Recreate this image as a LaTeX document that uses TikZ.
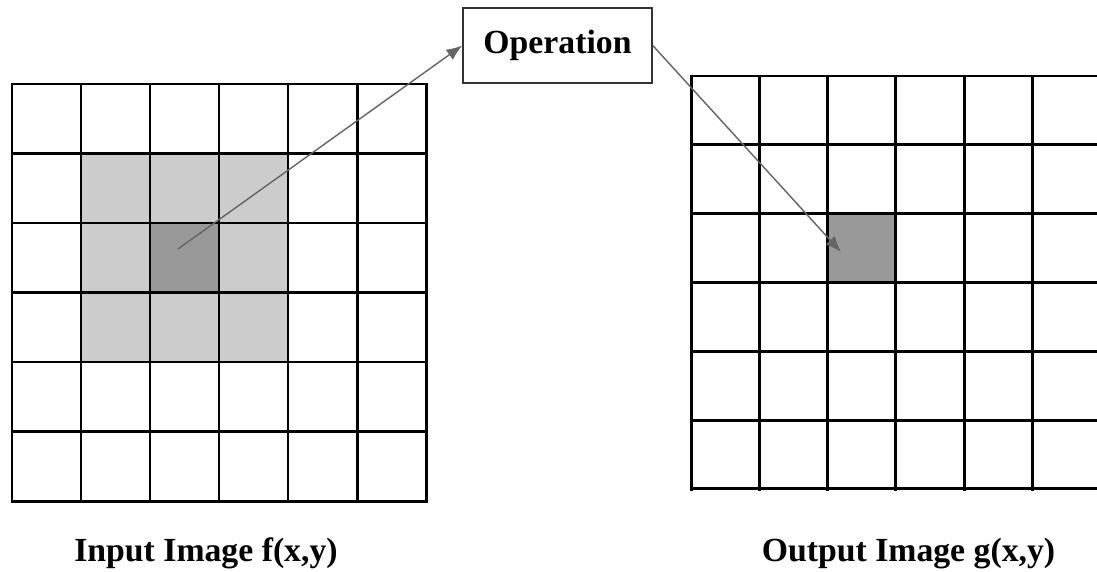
\documentclass[tikz,border=0pt]{standalone}
\usepackage{fontspec}
\setmainfont{Liberation Serif}
\usetikzlibrary{arrows.meta}

\definecolor{cellLight}{RGB}{204,204,204}
\definecolor{cellDark}{RGB}{153,153,153}
\definecolor{arrowGray}{RGB}{100,100,100}

\begin{document}
\begin{tikzpicture}[x=0.02cm,y=-0.02cm,
    gridline/.style={line width=1.7pt,line cap=rect,black},
    flow/.style={arrowGray,line width=0.8pt,-{Latex[length=9pt,width=7pt]}},
    opbox/.style={draw=black!80,line width=0.9pt,fill=white,
      minimum width=3.78cm,minimum height=1.5cm,inner sep=0pt},
    caption/.style={anchor=base,inner sep=0pt,font=\fontsize{19.2}{23}\selectfont\bfseries},
  ]
    \useasboundingbox (0,0) rectangle (1097,571);
    \clip (0,0) rectangle (1097,571);

    % input image: 3x3 neighbourhood and its centre pixel
    \fill[cellLight] (81,153.5) rectangle (288,362);
    \fill[cellDark] (150,223) rectangle (219,292.5);
    \foreach \i in {0,...,6} {
      \draw[gridline] (12+\i*69,84) -- (12+\i*69,501);
      \draw[gridline] (12,84+\i*69.5) -- (426,84+\i*69.5);
    }

    % output image: the pixel that gets the result
    \fill[cellDark] (827.6,213.6) rectangle (895.9,282.4);
    \foreach \i in {0,...,6} {
      \draw[gridline] (691+\i*68.3,76) -- (691+\i*68.3,489);
      \draw[gridline] (691,76+\i*68.8) -- (1101,76+\i*68.8);
    }

    \node[opbox] (op) at (557.5,45.5) {\fontsize{19.2}{23}\selectfont\bfseries Operation};

    \coordinate (src) at (178,249);
    \coordinate (dst) at (841,252);
    \draw[flow] (src) -- (op.west);
    \draw[flow] (op.east) -- (dst);

    \node[caption] (inlabel) at (206,561) {Input Image f(x,y)};
    \node[caption] (outlabel) at (908.5,561) {Output Image g(x,y)};
\end{tikzpicture}
\end{document}
